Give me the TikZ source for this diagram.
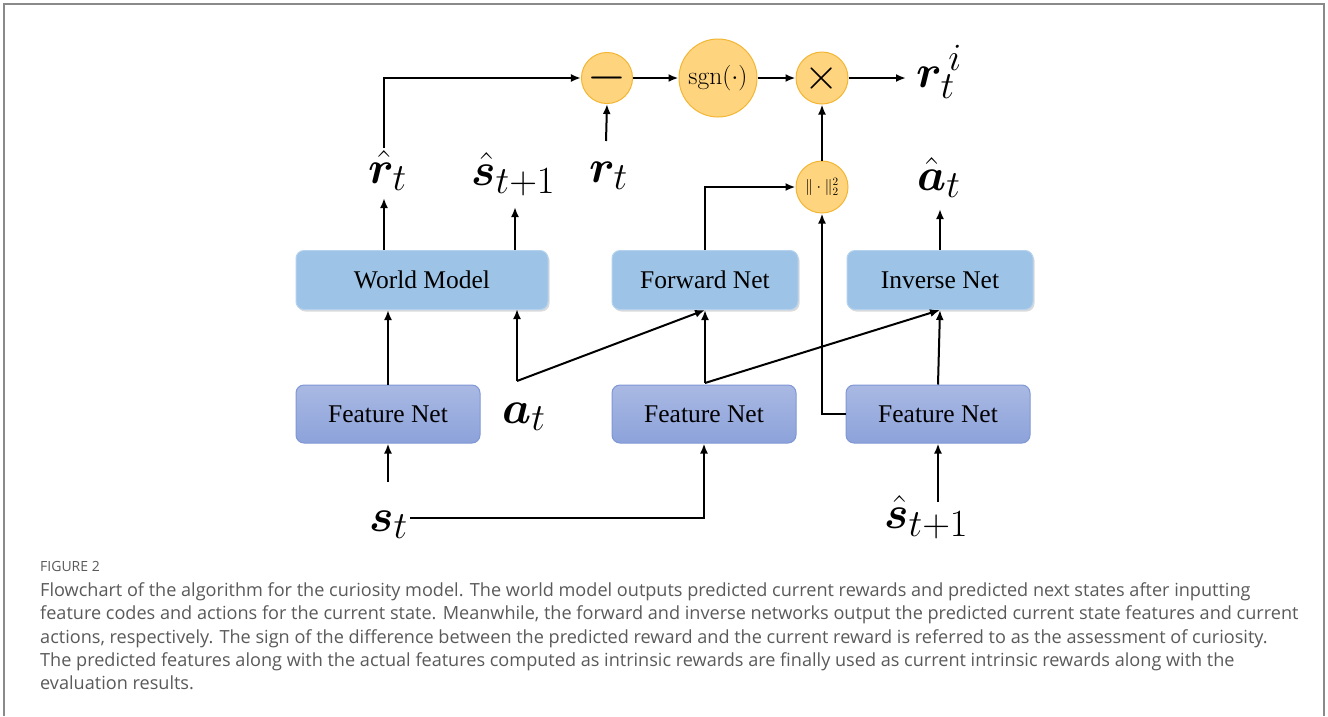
\RequirePackage{fix-cm}
\documentclass[tikz,border=0pt]{standalone}
\usepackage{amsmath,bm}
\usepackage{fontspec}
\usetikzlibrary{arrows.meta,shadows}
\newfontfamily\boxfont{Liberation Serif}
\newfontfamily\capfont{Open Sans}
\DeclareMathSizes{46}{46}{38.5}{30}

\definecolor{netblue}{HTML}{9DC3E6}
\definecolor{netedge}{HTML}{B4D2EE}
\definecolor{feattop}{HTML}{A9B9E3}
\definecolor{featbot}{HTML}{8CA2DA}
\definecolor{featedge}{HTML}{7F97D5}
\definecolor{opfill}{HTML}{FFD47E}
\definecolor{opedge}{HTML}{F2B634}
\definecolor{capgray}{HTML}{5A5A5A}
\definecolor{framegray}{HTML}{8A8A8A}

\tikzset{
  netbox/.style={draw=netedge, line width=1pt, fill=netblue, rounded corners=8pt,
    minimum width=252pt, minimum height=59pt, inner sep=0pt,
    font=\boxfont\fontsize{25.5}{28}\selectfont,
    drop shadow={shadow xshift=1.5pt, shadow yshift=-2pt, opacity=0.35, fill=black!40}},
  featbox/.style={draw=featedge, line width=1pt, top color=feattop, bottom color=featbot,
    rounded corners=8pt, minimum width=184pt, minimum height=58pt, inner sep=0pt,
    font=\boxfont\fontsize{25.5}{28}\selectfont},
  opnode/.style={circle, draw=opedge, line width=1pt, fill=opfill, inner sep=0pt},
  mathlbl/.style={inner sep=0pt, anchor=base west, font=\fontsize{46}{46}\selectfont},
  flow/.style={line width=2pt, -{Latex[length=10pt,width=8pt]}},
  captxt/.style={anchor=base west, inner sep=0pt, text=capgray, font=\capfont\fontsize{18.1}{22}\selectfont},
}

\begin{document}
\begin{tikzpicture}[x=1pt,y=-1pt]
  \useasboundingbox (0,0) rectangle (1328,716);
  \fill[white] (0,0) rectangle (1328,716);
  % figure frame (open at the bottom edge)
  \draw[framegray, line width=1.6pt] (4,716) -- (4,4) -- (1324,4) -- (1324,716);

  % network blocks
  \node[netbox] (wm) at (422,280) {World Model};
  \node[netbox, minimum width=186pt] (fwd) at (705,280) {Forward Net};
  \node[netbox, minimum width=186pt] (inv) at (940,280) {Inverse Net};
  \node[featbox] (fa) at (388,414) {Feature Net};
  \node[featbox] (fb) at (704,414) {Feature Net};
  \node[featbox] (fc) at (938,414) {Feature Net};

  % operators
  \node[opnode, minimum size=51pt] (minus) at (607,78) {\fontsize{50}{50}\selectfont$-$};
  \node[opnode, minimum size=78pt] (sgn) at (718,78) {\fontsize{25.5}{26}\selectfont$\operatorname{sgn}(\cdot)$};
  \node[opnode, minimum size=52pt] (times) at (822,78) {\fontsize{44}{44}\selectfont$\times$};
  \node[opnode, minimum size=52pt] (norm) at (822,187) {\fontsize{16}{16}\selectfont$\|\cdot\|_2^2$};

  % signal labels
  \node[mathlbl] (ri) at (916,87) {$\boldsymbol{r}_t^{\,i}$};
  \node[mathlbl] (rhat) at (368,183) {$\hat{\boldsymbol{r}}_t$};
  \node[mathlbl] (shat) at (471,185) {$\hat{\boldsymbol{s}}_{t+1}$};
  \node[mathlbl] (rt) at (589,182) {$\boldsymbol{r}_t$};
  \node[mathlbl] (ahat) at (917,190) {$\hat{\boldsymbol{a}}_t$};
  \node[mathlbl] (at) at (502,423) {$\boldsymbol{a}_t$};
  \node[mathlbl] (st) at (369,531) {$\boldsymbol{s}_t$};
  \node[mathlbl] (snext) at (884,528) {$\hat{\boldsymbol{s}}_{t+1}$};

  % free ends of connectors
  \coordinate (rhattop) at (384,148);
  \coordinate (rttop) at (606,141);
  \coordinate (riend) at (906,78);
  \coordinate (atjoin) at (517,381);
  \coordinate (fbjoin) at (705,383);

  % reward comparison chain
  \draw[flow] (rhattop) |- (minus.west);
  \draw[flow] (rttop) -- (minus.south);
  \draw[flow] (minus) -- (sgn);
  \draw[flow] (sgn) -- (times);
  \draw[flow] (times) -- (riend);
  \draw[flow] (norm) -- (times);

  % world model
  \draw[flow] (384,250) -- (384,198);
  \draw[flow] (515,250) -- (515,207);
  \draw[flow] (fa) -- (wm.south -| fa);
  \draw[flow] (atjoin) -- (517,309);
  \draw[flow] (atjoin) -- (fwd.south);

  % forward / inverse nets
  \draw[flow] (fbjoin) -- (fwd.south);
  \draw[flow] (fbjoin) -- (inv.south);
  \draw[flow] (fwd.north) |- (norm.west);
  \draw[flow] (fc.west) -| (norm.south);
  \draw[flow] (fc.north) -- (inv.south);
  \draw[flow] (inv.north) -- (940,209);

  % state inputs
  \draw[flow] (388,482) -- (fa.south);
  \draw[flow] (410,518) -| (fb.south);
  \draw[flow] (938,502) -- (fc.south);

  % caption
  \node[captxt, font=\capfont\fontsize{14}{16}\selectfont] (fig) at (40,571) {FIGURE 2};
  \node[captxt] (c1) at (40,596) {Flowchart of the algorithm for the curiosity model. The world model outputs predicted current rewards and predicted next states after inputting};
  \node[captxt] (c2) at (40,619) {feature codes and actions for the current state. Meanwhile, the forward and inverse networks output the predicted current state features and current};
  \node[captxt] (c3) at (40,643) {actions, respectively. The sign of the difference between the predicted reward and the current reward is referred to as the assessment of curiosity.};
  \node[captxt] (c4) at (40,666) {The predicted features along with the actual features computed as intrinsic rewards are finally used as current intrinsic rewards along with the};
  \node[captxt] (c5) at (40,689) {evaluation results.};
\end{tikzpicture}
\end{document}
